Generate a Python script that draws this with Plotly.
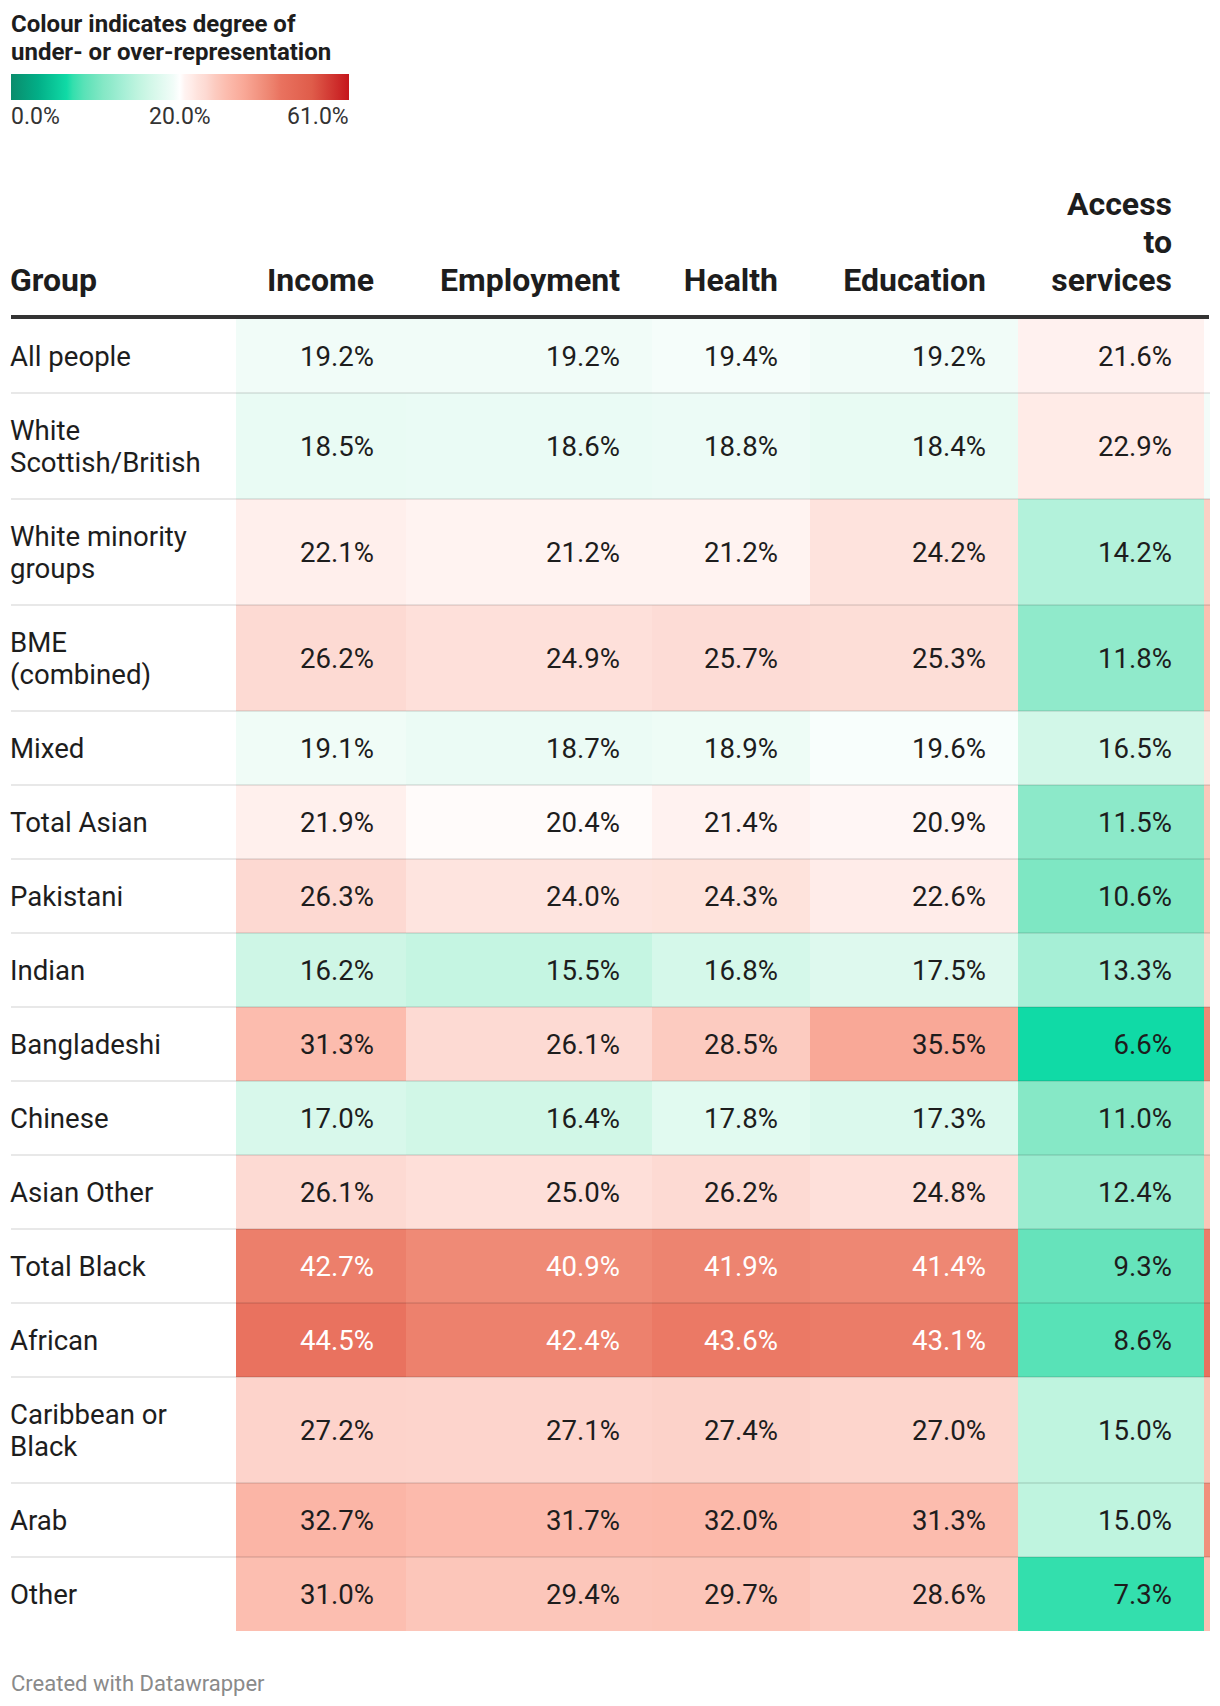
import plotly.graph_objects as go

# ---------------- data ----------------
groups = ["All people", "White<br>Scottish/British", "White minority<br>groups",
          "BME<br>(combined)", "Mixed", "Total Asian", "Pakistani", "Indian",
          "Bangladeshi", "Chinese", "Asian Other", "Total Black", "African",
          "Caribbean or<br>Black", "Arab", "Other"]
columns = ["Income", "Employment", "Health", "Education", "Access<br>to<br>services"]
income = [19.2, 18.5, 22.1, 26.2, 19.1, 21.9, 26.3, 16.2, 31.3, 17.0, 26.1, 42.7, 44.5, 27.2, 32.7, 31.0]
employment = [19.2, 18.6, 21.2, 24.9, 18.7, 20.4, 24.0, 15.5, 26.1, 16.4, 25.0, 40.9, 42.4, 27.1, 31.7, 29.4]
health = [19.4, 18.8, 21.2, 25.7, 18.9, 21.4, 24.3, 16.8, 28.5, 17.8, 26.2, 41.9, 43.6, 27.4, 32.0, 29.7]
education = [19.2, 18.4, 24.2, 25.3, 19.6, 20.9, 22.6, 17.5, 35.5, 17.3, 24.8, 41.4, 43.1, 27.0, 31.3, 28.6]
access = [21.6, 22.9, 14.2, 11.8, 16.5, 11.5, 10.6, 13.3, 6.6, 11.0, 12.4, 9.3, 8.6, 15.0, 15.0, 7.3]
# next column is cut off at the right edge of the table; values estimated from its visible colour
cut_off_col = [20.2, 19.3, 28.0, 31.0, 24.0, 29.5, 29.5, 27.0, 41.0, 27.5, 30.0, 43.0, 45.0, 30.0, 40.0, 30.5]
legend_ticks = [0.0, 20.0, 61.0]

# ---------------- styling / layout constants ----------------
W, H = 1220, 1706
FONT = "Roboto"
DARK = "#1d1d1d"
BODY_SIZE = 27.6
col_lefts = [236, 406, 652, 810, 1018, 1204]
col_right_end = 1210
group_x = 10
table_left = 11
table_right = 1210
text_pad = 32
text_dy = 3
table_top = 319
single_h, double_h = 74, 106
header_base_y = 283
header_line_gap = 38
label_line_gap = 31.5

# colour stops in value space (value, colour)
stops = [(0.0, "#0a8c6c"), (3.2, "#02ae87"), (6.6, "#10daa6"), (7.3, "#33dfad"),
         (8.6, "#58e2b7"), (9.3, "#66e3bb"), (11.0, "#86e8c6"), (11.8, "#90eacb"),
         (13.3, "#a6efd6"), (15.0, "#bff4df"), (16.5, "#d2f7e8"), (18.5, "#e9fbf4"),
         (19.2, "#f1fcf8"), (20.0, "#ffffff"), (21.2, "#fff3f1"), (22.9, "#ffebe7"),
         (24.2, "#fee3dd"), (26.2, "#fddad3"), (28.5, "#fccbc0"), (31.3, "#fcbcae"),
         (35.5, "#f9a897"), (40.9, "#ef8a76"), (42.7, "#ec7f6b"), (44.5, "#e9725f"),
         (52.0, "#df5c4a"), (61.0, "#c5161c")]
lo, mid, hi = legend_ticks


def to_bar(v):
    # legend bar: 0..20 on left half, 20..61 on right half
    if v <= mid:
        return 0.5 * (v - lo) / (mid - lo)
    return 0.5 + 0.5 * (v - mid) / (hi - mid)


colorscale = [[to_bar(v), c] for v, c in stops]

series = [income, employment, health, education, access, cut_off_col]
z = [[to_bar(series[j][i]) for j in range(len(series))] for i in range(len(groups))]

# row edges from the number of label lines
row_edges = [table_top]
for g in groups:
    row_edges.append(row_edges[-1] + (double_h if "<br>" in g else single_h))
row_centers = [(row_edges[i] + row_edges[i + 1]) / 2 for i in range(len(groups))]
col_edges = col_lefts + [col_right_end]

fig = go.Figure()
fig.add_trace(go.Heatmap(
    x=col_edges, y=row_edges, z=z, colorscale=colorscale, zmin=0, zmax=1,
    hoverinfo="skip", xgap=0, ygap=0,
    colorbar=dict(orientation="h", xref="container", yref="container",
                  x=11 / W, xanchor="left", y=1 - 74 / H, yanchor="top",
                  len=338, lenmode="pixels", thickness=26, thicknessmode="pixels",
                  outlinewidth=0, showticklabels=False, ticks="", xpad=0, ypad=0,
                  title=dict(text="")),
))

# cell values
vx, vy, vt, vc = [], [], [], []
for j, s in enumerate(series[:5]):
    right = col_edges[j + 1]
    for i, v in enumerate(s):
        vx.append(right - text_pad)
        vy.append(row_centers[i] + text_dy)
        vt.append(f"{v:.1f}%")
        vc.append("#ffffff" if v >= 38 else DARK)
fig.add_trace(go.Scatter(x=vx, y=vy, text=vt, mode="text", textposition="middle left",
                         textfont=dict(family=FONT, size=BODY_SIZE, color=vc), hoverinfo="skip"))

# group labels
gx, gy, gt = [], [], []
for i, g in enumerate(groups):
    lines = g.split("<br>")
    n = len(lines)
    for k, ln in enumerate(lines):
        gx.append(group_x)
        gy.append(row_centers[i] + text_dy + (k - (n - 1) / 2) * label_line_gap)
        gt.append(ln)
fig.add_trace(go.Scatter(x=gx, y=gy, text=gt, mode="text", textposition="middle right",
                         textfont=dict(family=FONT, size=BODY_SIZE, color=DARK), hoverinfo="skip"))

# headers
hx, hy, ht, hp = [], [], [], []
hx.append(group_x); hy.append(header_base_y); ht.append("Group"); hp.append("middle right")
for j, c in enumerate(columns):
    lines = c.split("<br>")
    n = len(lines)
    for k, ln in enumerate(lines):
        hx.append(col_edges[j + 1] - text_pad)
        hy.append(header_base_y - (n - 1 - k) * header_line_gap)
        ht.append(ln)
        hp.append("middle left")
fig.add_trace(go.Scatter(x=hx, y=hy, text=ht, mode="text", textposition=hp,
                         textfont=dict(family=FONT, size=32, color=DARK, weight="bold"),
                         hoverinfo="skip"))

shapes = [dict(type="line", xref="x", yref="y", x0=table_left, x1=table_right - 1,
               y0=317, y1=317, line=dict(color="#333333", width=4), layer="above")]
for e in row_edges[1:-1]:
    shapes.append(dict(type="line", xref="x", yref="y", x0=table_left, x1=table_right,
                       y0=e, y1=e, line=dict(color="rgba(0,0,0,0.09)", width=2), layer="above"))

annotations = [
    dict(x=9, y=24, text="<b>Colour indicates degree of</b>", xanchor="left", yanchor="middle"),
    dict(x=9, y=52, text="<b>under- or over-representation</b>", xanchor="left", yanchor="middle"),
]
for a in annotations:
    a.update(xref="x", yref="y", showarrow=False, font=dict(family=FONT, size=24, color=DARK))
bar_l, bar_r = 9, 351
for v, anchor in zip(legend_ticks, ["left", "center", "right"]):
    annotations.append(dict(x=bar_l + to_bar(v) * (bar_r - bar_l), y=116, text=f"{v:.1f}%",
                            xanchor=anchor, yanchor="middle", xref="x", yref="y", showarrow=False,
                            font=dict(family=FONT, size=23, color="#333333")))
annotations.append(dict(x=9, y=1683, text="Created with Datawrapper", xanchor="left",
                        yanchor="middle", xref="x", yref="y", showarrow=False,
                        font=dict(family=FONT, size=22, color="#8a8a8a")))

fig.update_layout(
    width=W, height=H, margin=dict(l=0, r=0, t=0, b=0, pad=0, autoexpand=False),
    paper_bgcolor="white", plot_bgcolor="white", showlegend=False,
    xaxis=dict(visible=False, range=[0, W], domain=[0, 1], fixedrange=True),
    yaxis=dict(visible=False, range=[H, 0], domain=[0, 1], fixedrange=True),
    shapes=shapes, annotations=annotations,
    font=dict(family=FONT),
)
fig.write_html("out.html", config={"displayModeBar": False},
               post_script="document.body.style.margin='0';document.body.style.overflow='hidden';")
